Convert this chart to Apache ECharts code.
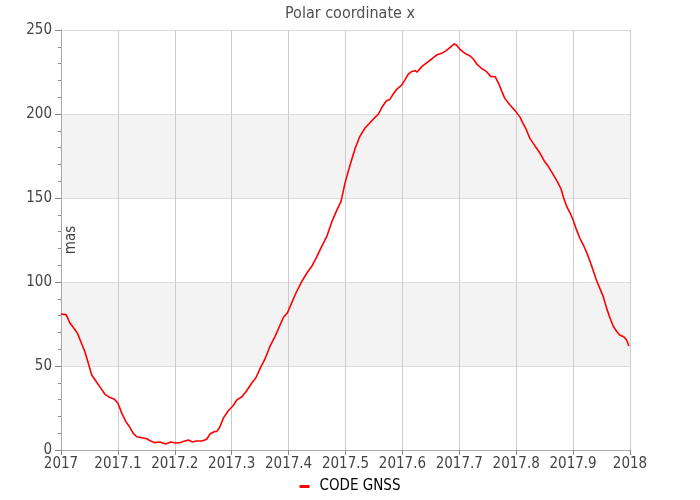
<!DOCTYPE html>
<html>
<head>
<meta charset="utf-8">
<script src="https://cdn.jsdelivr.net/npm/echarts@6/dist/echarts.min.js"></script>
<style>html,body{margin:0;padding:0;background:#fff}#c{width:700px;height:500px}</style>
</head>
<body>
<div id="c"></div>
<script>
var titleText = 'Polar coordinate x';
var seriesName = 'CODE GNSS';
var yName = 'mas';
var years = [2017.000,2017.009,2017.016,2017.025,2017.029,2017.036,2017.042,2017.048,2017.054,2017.060,
2017.069,2017.077,2017.086,2017.094,2017.100,2017.107,2017.114,2017.121,2017.127,2017.133,
2017.142,2017.151,2017.156,2017.164,2017.174,2017.184,2017.193,2017.202,2017.209,2017.218,
2017.224,2017.231,2017.238,2017.248,2017.256,2017.262,2017.269,2017.274,2017.279,2017.285,
2017.294,2017.302,2017.309,2017.318,2017.326,2017.335,2017.343,2017.350,2017.359,2017.367,
2017.376,2017.385,2017.391,2017.398,2017.405,2017.414,2017.423,2017.432,2017.441,2017.449,
2017.458,2017.467,2017.476,2017.485,2017.492,2017.499,2017.508,2017.517,2017.525,2017.534,
2017.543,2017.552,2017.558,2017.564,2017.572,2017.578,2017.584,2017.590,2017.599,2017.605,
2017.610,2017.616,2017.622,2017.626,2017.634,2017.643,2017.651,2017.660,2017.669,2017.677,
2017.684,2017.691,2017.695,2017.701,2017.710,2017.719,2017.725,2017.731,2017.739,2017.748,
2017.755,2017.763,2017.769,2017.775,2017.780,2017.789,2017.798,2017.807,2017.812,2017.818,
2017.824,2017.833,2017.842,2017.849,2017.856,2017.862,2017.868,2017.874,2017.879,2017.883,
2017.889,2017.895,2017.900,2017.906,2017.912,2017.918,2017.924,2017.930,2017.935,2017.941,
2017.947,2017.953,2017.959,2017.965,2017.971,2017.977,2017.982,2017.989,2017.994,2017.998];
var values = [81.0,80.6,75.4,71.4,69.4,63.5,58.5,51.6,44.6,41.7,
37.3,33.3,31.2,30.2,27.8,21.8,16.9,13.5,9.9,7.9,
7.3,6.7,5.6,4.4,4.8,3.6,4.8,4.2,4.4,5.4,
6.0,4.8,5.4,5.4,6.4,9.5,10.9,11.1,13.5,18.8,
23.4,26.2,29.8,31.7,35.1,39.7,43.3,48.6,54.6,61.5,
67.5,74.4,79.0,81.7,87.3,94.2,100.2,105.2,109.5,114.7,
121.0,127.0,135.9,142.9,147.8,158.7,169.6,179.6,186.5,191.5,
194.8,198.0,200.0,204.0,207.9,208.7,211.9,214.7,217.3,220.6,
223.6,225.2,225.8,225.0,228.2,230.6,232.6,235.1,236.1,237.7,
239.7,241.7,241.1,238.5,236.1,234.5,232.6,229.6,227.2,225.2,
222.4,222.2,218.3,213.3,209.3,205.4,202.0,198.0,194.4,190.5,
185.5,181.0,176.6,172.2,169.0,165.7,162.3,158.7,155.2,150.4,
144.8,140.9,136.9,131.0,126.0,122.0,117.5,112.1,107.1,101.2,
96.2,91.3,84.3,78.4,73.4,70.4,68.5,67.4,65.5,61.9];

var FONT = '"DejaVu Sans Condensed", "DejaVu Sans", sans-serif';
var pts = years.map(function (y, i) { return [y, values[i]]; });

var chart = echarts.init(document.getElementById('c'), null, {renderer: 'canvas'});
chart.setOption({
  animation: false,
  backgroundColor: '#fff',
  textStyle: {fontFamily: FONT},
  title: {
    text: titleText, left: 'center', top: 1,
    textStyle: {fontFamily: FONT, fontSize: 16, fontWeight: 'normal', color: '#505050'}
  },
  legend: {
    bottom: 1, left: 'center',
    icon: 'rect', itemWidth: 10, itemHeight: 3, itemGap: 10,
    textStyle: {fontFamily: FONT, fontSize: 15, color: '#000', padding: [0, 0, 0, 5]},
    data: [seriesName]
  },
  grid: {left: 61, right: 70, top: 30, bottom: 50, containLabel: false},
  xAxis: {
    type: 'value', min: 2017, max: 2018, interval: 0.1,
    axisLine: {show: true, lineStyle: {color: '#aaa'}},
    axisTick: {show: true, length: 5, lineStyle: {color: '#888'}},
    axisLabel: {
      fontFamily: FONT, fontSize: 15, color: '#444', margin: 7,
      formatter: function (v) { return String(Math.round(v * 10) / 10); }
    },
    splitLine: {show: true, lineStyle: {color: '#cccccc'}}
  },
  yAxis: {
    type: 'value', min: 0, max: 250, interval: 50,
    name: yName, nameLocation: 'middle', nameGap: -18, nameRotate: 90,
    nameMoveOverlap: false,
    nameTextStyle: {fontFamily: FONT, fontSize: 15, color: '#444'},
    axisLine: {show: true, lineStyle: {color: '#aaa'}},
    axisTick: {show: true, length: 6, lineStyle: {color: '#888'}},
    minorTick: {show: true, splitNumber: 5, length: 3, lineStyle: {color: '#888'}},
    axisLabel: {fontFamily: FONT, fontSize: 15, color: '#444', margin: 9},
    splitLine: {show: true, lineStyle: {color: '#dddddd'}},
    splitArea: {show: true, areaStyle: {color: ['#ffffff', '#f3f3f3']}}
  },
  series: [{
    name: seriesName, type: 'line', data: pts, showSymbol: false, symbol: 'none',
    lineStyle: {color: '#ff0000', width: 1.6}, itemStyle: {color: '#ff0000'}
  }]
});
</script>
</body>
</html>
